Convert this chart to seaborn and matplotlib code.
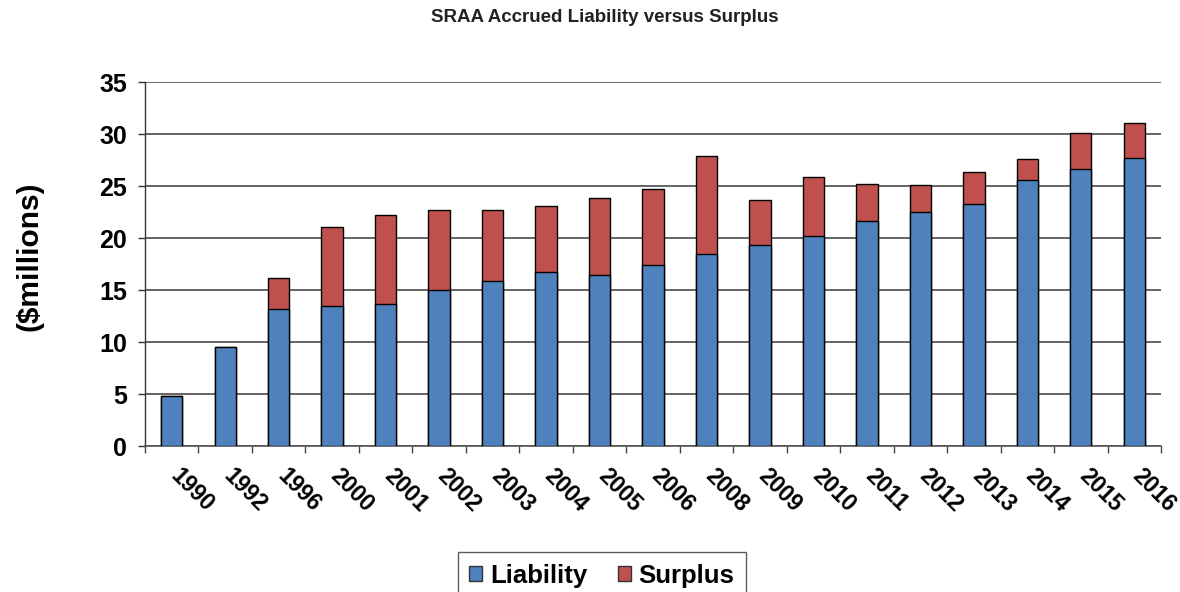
import matplotlib
matplotlib.use("Agg")
import matplotlib.pyplot as plt
import matplotlib.transforms as mtransforms
from matplotlib.patches import Patch
import seaborn as sns
import pandas as pd
import numpy as np

years = ["1990", "1992", "1996", "2000", "2001", "2002", "2003", "2004", "2005", "2006",
         "2008", "2009", "2010", "2011", "2012", "2013", "2014", "2015", "2016"]
liability = [4.8, 9.5, 13.2, 13.5, 13.7, 15.0, 15.9, 16.7, 16.4, 17.4,
             18.5, 19.3, 20.2, 21.6, 22.5, 23.3, 25.6, 26.6, 27.7]
surplus = [0.0, 0.0, 3.0, 7.6, 8.5, 7.7, 6.8, 6.4, 7.4, 7.3,
           9.4, 4.4, 5.7, 3.6, 2.6, 3.0, 2.0, 3.5, 3.4]
yticks = [0, 5, 10, 15, 20, 25, 30, 35]

blue = "#4F81BD"
red = "#C0504D"

df = pd.DataFrame({"year": years, "Liability": liability, "Surplus": surplus})
df["Total"] = df["Liability"] + df["Surplus"]

sns.set_theme(style="white")
plt.rcParams["font.family"] = ["Liberation Sans", "DejaVu Sans"]
plt.rcParams["text.color"] = "black"
plt.rcParams["axes.labelcolor"] = "black"
plt.rcParams["xtick.color"] = "black"
plt.rcParams["ytick.color"] = "black"

fig = plt.figure(figsize=(11.8, 5.92), dpi=100)
ax = fig.add_axes([145 / 1180, 1 - 446 / 592, (1161 - 145) / 1180, (446 - 82) / 592])

sns.barplot(data=df, x="year", y="Total", color=red, width=0.4, edgecolor="black",
            linewidth=1, saturation=1, ax=ax, zorder=3)
sns.barplot(data=df, x="year", y="Liability", color=blue, width=0.4, edgecolor="black",
            linewidth=1, saturation=1, ax=ax, zorder=4)

ax.set_xlim(-0.5, len(years) - 0.5)
ax.set_ylim(0, 35)
ax.set_yticks(yticks)
ax.set_yticklabels([str(v) for v in yticks], fontsize=18, fontweight="bold")
ax.yaxis.grid(True, color="#3a3a3a", linewidth=1.1, zorder=0)
ax.xaxis.grid(False)
ax.set_axisbelow(True)

for s in ["top", "right"]:
    ax.spines[s].set_visible(False)
ax.spines["left"].set_color("#333333")
ax.spines["bottom"].set_color("#555555")
ax.spines["left"].set_linewidth(1)
ax.spines["bottom"].set_linewidth(1.2)

ax.tick_params(axis="y", which="major", left=True, length=5, width=1, color="#333333",
               labelcolor="black", pad=8, direction="out")
ax.set_xticks(np.arange(len(years)))
ax.set_xticks(np.arange(len(years) + 1) - 0.5, minor=True)
ax.tick_params(axis="x", which="major", length=0, pad=19, labelcolor="black")
ax.tick_params(axis="x", which="minor", bottom=True, length=5, width=1, color="#444444",
               direction="out")
ax.set_xticklabels(years, fontsize=16.5, fontweight="bold", rotation=-45,
                   ha="left", va="center", rotation_mode="anchor")
offset = mtransforms.ScaledTranslation(2 / 100, 0, fig.dpi_scale_trans)
for lbl in ax.get_xticklabels():
    lbl.set_transform(lbl.get_transform() + offset)

ax.set_xlabel("")
ax.set_ylabel("($millions)", fontsize=21.5, fontweight="bold", labelpad=44, color="black")
ax.yaxis.set_label_coords(-0.1, 0.52)

fig.text(605 / 1180, 1 - 17 / 592, "SRAA Accrued Liability versus Surplus",
         ha="center", va="center", fontsize=13.5, fontweight="bold", color="#222222")

handles = [Patch(facecolor=blue, edgecolor="#333333", label="Liability"),
           Patch(facecolor=red, edgecolor="#333333", label="Surplus")]
leg = fig.legend(handles=handles, loc="upper center", bbox_to_anchor=(602 / 1180, 1 - 552 / 592),
                 ncol=2, frameon=True, fancybox=False, edgecolor="#333333",
                 prop={"size": 18.5, "weight": "bold"}, handlelength=0.5, handleheight=0.5,
                 handletextpad=0.3, columnspacing=1.2, borderpad=0.45, borderaxespad=0)
leg.get_frame().set_linewidth(1)

fig.savefig("out.png", dpi=100)
